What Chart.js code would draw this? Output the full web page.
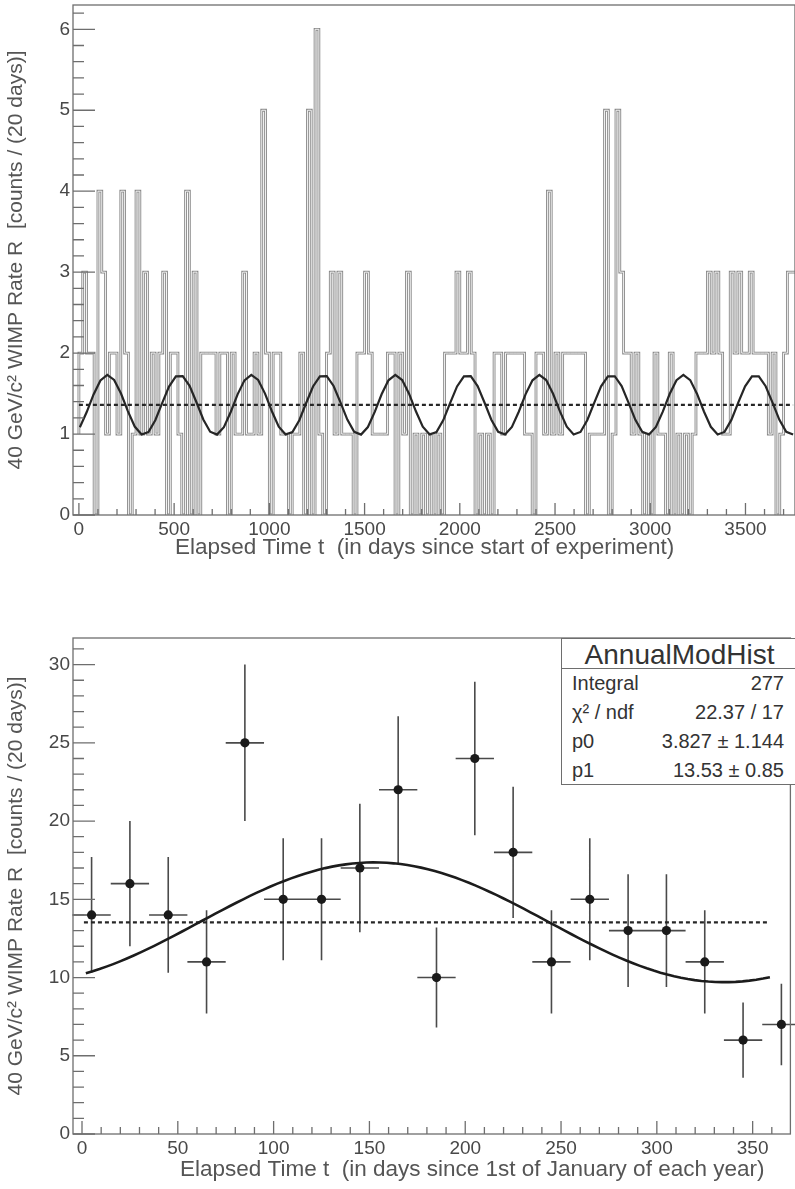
<!DOCTYPE html>
<html>
<head>
<meta charset="utf-8">
<script src="https://cdn.jsdelivr.net/npm/chart.js@4.4.1/dist/chart.umd.min.js"></script>
<style>
  html, body { margin: 0; padding: 0; background: #fff; }
  body { width: 795px; height: 1189px; position: relative; overflow: hidden;
         font-family: "Liberation Sans", Arial, Helvetica, sans-serif; }
  #timeChart { position: absolute; left: 0; top: 0; }
  #annualChart { position: absolute; left: 0; top: 600px; }
  .stats { position: absolute; left: 561px; top: 638px; width: 237px; height: 147px;
           border: 1.5px solid #6e6e6e; box-sizing: border-box; background: #fff; color: #333; }
  .stats .head { height: 29px; line-height: 31px; font-size: 28px; text-align: center;
                 border-bottom: 1.5px solid #6e6e6e; }
  .stats .row { display: flex; justify-content: space-between; height: 29px; line-height: 29px;
                font-size: 20px; padding: 0 13px 0 10px; }
</style>
</head>
<body>
<canvas id="timeChart" width="795" height="560"></canvas>
<canvas id="annualChart" width="795" height="589"></canvas>
<div class="stats" id="stats"></div>

<script>
// ---- upper plot: counts per 20-day bin since start of experiment ----
const binDays = 20
const elapsedCounts = [
  1, 2, 3, 2, 2, 0, 4, 3, 1, 2,
  2, 1, 4, 2, 0, 1, 4, 1, 3, 1,
  2, 1, 2, 3, 0, 2, 2, 1, 0, 4,
  0, 3, 0, 2, 2, 2, 2, 1, 2, 2,
  0, 2, 1, 1, 3, 1, 1, 2, 1, 5,
  2, 0, 2, 2, 1, 1, 0, 1, 1, 2,
  0, 5, 0, 6, 1, 0, 2, 3, 1, 3,
  1, 1, 1, 0, 2, 2, 3, 2, 1, 1,
  1, 1, 2, 2, 0, 2, 1, 3, 0, 1,
  0, 1, 0, 1, 0, 1, 0, 2, 2, 2,
  3, 2, 2, 3, 2, 0, 1, 0, 1, 0,
  2, 2, 1, 2, 2, 2, 2, 2, 1, 1,
  0, 2, 2, 1, 4, 1, 2, 1, 2, 2,
  2, 2, 2, 2, 0, 1, 1, 1, 1, 5,
  0, 1, 5, 3, 2, 2, 1, 2, 1, 0,
  1, 0, 2, 1, 1, 0, 2, 0, 1, 0,
  1, 0, 1, 2, 2, 2, 3, 2, 3, 2,
  1, 1, 3, 2, 3, 2, 2, 3, 2, 2,
  2, 2, 1, 2, 0, 1, 2, 3
]
const elapsedTicks = [0, 500, 1000, 1500, 2000, 2500, 3000, 3500]
const rateTicks = [0, 1, 2, 3, 4, 5, 6]
// upper fit (peak positions, mean level, swing)
const upperMean = 1.36
const upperAmp = 0.37
const upperPeakDay = 150
const upperPeriod = 378
const upperFitRange = [5, 3750]

// ---- lower plot: folded onto one year ----
const annualDays = [5, 25, 45, 65, 85, 105, 125, 145, 165, 185, 205, 225, 245, 265, 285, 305, 325, 345, 365]
const annualCounts = [14, 16, 14, 11, 25, 15, 15, 17, 22, 10, 24, 18, 11, 15, 13, 13, 11, 6, 7]
const annualErrors = [3.7, 4.0, 3.7, 3.3, 5.0, 3.9, 3.9, 4.1, 4.7, 3.2, 4.9, 4.2, 3.3, 3.9, 3.6, 3.6, 3.3, 2.4, 2.6]
const dayTicks = [0, 50, 100, 150, 200, 250, 300, 350]
const annualRateTicks = [0, 5, 10, 15, 20, 25, 30]
const p0 = 3.827
const p1 = 13.53
const peakDay = 152.5
const yearDays = 365.25
const lowerFitRange = [2, 359]

const statsTitle = "AnnualModHist"
const statsLabels = ["Integral", "χ² / ndf", "p0", "p1"]
const statsValues = ["277", "22.37 / 17", "3.827 ± 1.144", "13.53 ± 0.85"]

const yTitle = "40 GeV/c² WIMP Rate R  [counts / (20 days)]"

Chart.defaults.font.family = '"Liberation Sans", Arial, Helvetica, sans-serif'

function fitCurve(range, n, mean, amp, peak, period) {
  const pts = []
  for (let i = 0; i <= n; i++) {
    const t = range[0] + (range[1] - range[0]) * i / n
    pts.push({ x: t, y: mean + amp * Math.cos(2 * Math.PI * (t - peak) / period) })
  }
  return pts
}

function marks(scale, step) {
  const out = []
  for (let k = Math.ceil(scale.min / step - 1e-9); k * step <= scale.max + 1e-9; k++) out.push(k * step)
  return out
}
const isMajor = (v, step) => Math.abs(v / step - Math.round(v / step)) < 1e-6

// ROOT-like frame with inward ticks and the x title
const rootFrame = {
  id: "rootFrame",
  afterDraw(chart, args, o) {
    const { ctx, chartArea: a, scales: { x, y } } = chart
    ctx.save()
    ctx.strokeStyle = "#6e6e6e"
    ctx.lineWidth = 1.3
    ctx.strokeRect(a.left, a.top, a.right - a.left, a.bottom - a.top)
    ctx.beginPath()
    marks(x, o.xMinor).forEach(v => {
      const px = x.getPixelForValue(v)
      ctx.moveTo(px, a.bottom)
      ctx.lineTo(px, a.bottom - (isMajor(v, o.xMajor) ? o.xMajorLen : o.xMinorLen))
    })
    marks(y, o.yMinor).forEach(v => {
      const py = y.getPixelForValue(v)
      ctx.moveTo(a.left, py)
      ctx.lineTo(a.left + (isMajor(v, o.yMajor) ? o.yMajorLen : o.yMinorLen), py)
    })
    ctx.stroke()
    ctx.fillStyle = "#555"
    ctx.font = '22.5px "Liberation Sans", Arial, sans-serif'
    ctx.textAlign = "left"
    ctx.textBaseline = "middle"
    ctx.fillText(o.xTitle, o.xTitleLeft, o.xTitleY)
    ctx.restore()
  }
}

// error bars for the folded plot
const errorBars = {
  id: "errorBars",
  beforeDatasetsDraw(chart) {
    const { ctx, scales: { x, y } } = chart
    ctx.save()
    ctx.strokeStyle = "#4a4a4a"
    ctx.lineWidth = 1.6
    ctx.beginPath()
    annualDays.forEach((d, i) => {
      const c = annualCounts[i], e = annualErrors[i]
      ctx.moveTo(x.getPixelForValue(d - binDays / 2), y.getPixelForValue(c))
      ctx.lineTo(x.getPixelForValue(d + binDays / 2), y.getPixelForValue(c))
      ctx.moveTo(x.getPixelForValue(d), y.getPixelForValue(c - e))
      ctx.lineTo(x.getPixelForValue(d), y.getPixelForValue(c + e))
    })
    ctx.stroke()
    ctx.restore()
  }
}

function axisOptions(ticks, min, max, fit, extra) {
  return Object.assign({
    type: "linear",
    min: min,
    max: max,
    grid: { display: false, drawTicks: false },
    border: { display: false },
    afterBuildTicks: s => { s.ticks = ticks.map(v => ({ value: v })) },
    afterFit: fit,
    ticks: { autoSkip: false, maxRotation: 0, color: "#484848", font: { size: 19 }, callback: v => String(v) }
  }, extra)
}

const yFit = s => { s.width = 73; s.paddingTop = 0; s.paddingBottom = 0 }

const histPts = elapsedCounts.map((c, i) => ({ x: i * binDays, y: c }))
histPts.push({ x: elapsedCounts.length * binDays, y: elapsedCounts[elapsedCounts.length - 1] })

new Chart(document.getElementById("timeChart"), {
  type: "line",
  data: {
    datasets: [
      { data: fitCurve(upperFitRange, 104, upperMean, upperAmp, upperPeakDay, upperPeriod), borderColor: "#262626", borderWidth: 2.2, pointRadius: 0, order: 0 },
      { data: [{ x: 0, y: upperMean }, { x: upperFitRange[1], y: upperMean }], borderColor: "#262626", borderWidth: 2.2, borderDash: [4, 3], pointRadius: 0, order: 1 },
      { data: histPts, stepped: "after", borderColor: "#ffffff", borderWidth: 0.9, pointRadius: 0, order: 2 },
      { data: histPts, stepped: "after", borderColor: "#8a8a8a", borderWidth: 2.8, pointRadius: 0, order: 3 }
    ]
  },
  options: {
    responsive: false,
    animation: false,
    devicePixelRatio: 1,
    layout: { padding: { top: 5, right: 0, left: 0, bottom: 0 } },
    plugins: {
      legend: { display: false },
      tooltip: { enabled: false },
      rootFrame: {
        xMajor: 500, xMinor: 100, xMajorLen: 12, xMinorLen: 6,
        yMajor: 1, yMinor: 0.2, yMajorLen: 22, yMinorLen: 11,
        xTitle: "Elapsed Time t  (in days since start of experiment)", xTitleLeft: 175, xTitleY: 548
      }
    },
    scales: {
      x: axisOptions(elapsedTicks, -31, 3760, s => { s.height = 45 }, {}),
      y: axisOptions(rateTicks, 0, 6.3, yFit, {
        title: { display: true, text: yTitle, color: "#555", font: { size: 21 }, padding: { top: 4, bottom: 0 } }
      })
    }
  },
  plugins: [rootFrame]
})

new Chart(document.getElementById("annualChart"), {
  type: "scatter",
  data: {
    datasets: [
      { data: fitCurve(lowerFitRange, 100, p1, p0, peakDay, yearDays), showLine: true, borderColor: "#1c1c1c", borderWidth: 2.6, pointRadius: 0, order: 0 },
      { data: [{ x: 1, y: p1 }, { x: lowerFitRange[1], y: p1 }], showLine: true, borderColor: "#262626", borderWidth: 2.2, borderDash: [4, 3], pointRadius: 0, order: 1 },
      { data: annualDays.map((d, i) => ({ x: d, y: annualCounts[i] })), pointRadius: 4.6, pointBorderWidth: 0, pointBackgroundColor: "#1a1a1a", order: 2 }
    ]
  },
  options: {
    responsive: false,
    animation: false,
    devicePixelRatio: 1,
    layout: { padding: { top: 38, right: 0, left: 0, bottom: 0 } },
    plugins: {
      legend: { display: false },
      tooltip: { enabled: false },
      rootFrame: {
        xMajor: 50, xMinor: 10, xMajorLen: 13, xMinorLen: 7,
        yMajor: 5, yMinor: 1, yMajorLen: 22, yMinorLen: 11,
        xTitle: "Elapsed Time t  (in days since 1st of January of each year)", xTitleLeft: 180, xTitleY: 570
      }
    },
    scales: {
      x: axisOptions(dayTicks, -4.7, 369.7, s => { s.height = 55 }, {}),
      y: axisOptions(annualRateTicks, 0, 31.7, yFit, {
        title: { display: true, text: yTitle, color: "#555", font: { size: 21 }, padding: { top: 4, bottom: 0 } }
      })
    }
  },
  plugins: [rootFrame, errorBars]
})

// stats box
const box = document.getElementById("stats")
box.innerHTML = '<div class="head">' + statsTitle + '</div>' +
  statsLabels.map((l, i) => '<div class="row"><span>' + l + '</span><span>' + statsValues[i] + '</span></div>').join("")
</script>
</body>
</html>
